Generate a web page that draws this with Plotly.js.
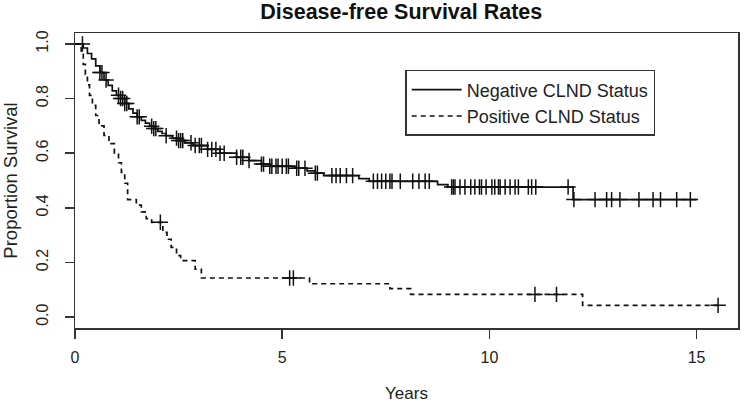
<!DOCTYPE html>
<html>
<head>
<meta charset="utf-8">
<script src="https://cdn.plot.ly/plotly-3.0.1.min.js"></script>
<style>html,body{margin:0;padding:0;background:#fff;}#chart{width:750px;height:405px;}</style>
</head>
<body>
<div id="chart"></div>
<script>
// Negative CLND status: event times and survival after each step
const negTimes = [0, 0.2, 0.3, 0.4, 0.5, 0.6, 0.7, 0.8, 0.9, 1.0, 1.1, 1.2, 1.3, 1.4, 1.5, 1.6, 1.7, 1.8, 1.9, 2.0, 2.1, 2.2, 2.35, 2.5, 2.65, 2.85, 3.2, 3.5, 3.9, 4.2, 4.5, 4.7, 5.3, 5.6, 5.8, 6.0, 6.85, 7.1, 8.75, 9.0, 12.02];
const negSurv  = [1.0, 0.985, 0.965, 0.945, 0.92, 0.895, 0.868, 0.848, 0.828, 0.812, 0.80, 0.782, 0.762, 0.747, 0.733, 0.72, 0.71, 0.699, 0.69, 0.68, 0.672, 0.664, 0.655, 0.646, 0.638, 0.628, 0.614, 0.6, 0.585, 0.573, 0.56, 0.552, 0.545, 0.535, 0.527, 0.518, 0.507, 0.497, 0.485, 0.476, 0.43];
const negEnd = 15.0;
const negCensor = [0.18, 0.6, 0.65, 0.75, 1.05, 1.1, 1.15, 1.2, 1.25, 1.5, 1.55, 1.85, 1.9, 1.95, 2.2, 2.45, 2.5, 2.55, 2.6, 2.8, 2.9, 3.0, 3.05, 3.2, 3.3, 3.4, 3.5, 3.6, 3.9, 4.0, 4.05, 4.2, 4.5, 4.55, 4.7, 4.75, 4.85, 4.9, 5.0, 5.1, 5.15, 5.35, 5.4, 5.55, 5.8, 5.85, 6.2, 6.3, 6.4, 6.55, 6.7, 7.2, 7.3, 7.4, 7.5, 7.6, 7.65, 7.85, 8.15, 8.3, 8.45, 8.55, 9.09, 9.13, 9.17, 9.29, 9.41, 9.55, 9.65, 9.76, 9.81, 9.92, 10.06, 10.13, 10.22, 10.26, 10.38, 10.5, 10.62, 10.7, 10.94, 11.02, 11.12, 11.9, 12.04, 12.55, 12.83, 12.95, 13.15, 13.61, 13.95, 14.13, 14.52, 14.85];

// Positive CLND status
const posTimes = [0, 0.15, 0.2, 0.25, 0.3, 0.35, 0.42, 0.5, 0.58, 0.7, 0.82, 0.95, 1.05, 1.12, 1.2, 1.27, 1.48, 1.6, 1.72, 1.85, 2.12, 2.22, 2.32, 2.45, 2.55, 2.9, 3.05, 5.66, 7.6, 8.1, 12.25];
const posSurv  = [1.0, 0.962, 0.925, 0.888, 0.85, 0.812, 0.775, 0.738, 0.70, 0.665, 0.635, 0.60, 0.565, 0.53, 0.49, 0.43, 0.41, 0.385, 0.36, 0.347, 0.31, 0.285, 0.255, 0.225, 0.207, 0.175, 0.143, 0.122, 0.104, 0.083, 0.043];
const posEnd = 15.52;
const posCensor = [2.06, 5.18, 5.27, 11.1, 11.62, 15.52];

const seriesNames = ["Negative CLND Status", "Positive CLND Status"];
const yTicks = [0, 0.2, 0.4, 0.6, 0.8, 1.0];
const yTickText = ["0.0", "0.2", "0.4", "0.6", "0.8", "1.0"];
const xTicks = [0, 5, 10, 15];

function survAt(times, surv, t) {
  let s = surv[0];
  for (let i = 0; i < times.length; i++) { if (times[i] <= t) s = surv[i]; }
  return s;
}

const FONT = "Liberation Sans, Arial, sans-serif";

function curve(times, surv, end, name, dash) {
  return {
    x: times.concat([end]), y: surv.concat([surv[surv.length - 1]]),
    type: "scatter", mode: "lines", name: name,
    line: {shape: "hv", color: "#111", width: 1.7, dash: dash}
  };
}
function censors(times, surv, ct) {
  return {
    x: ct, y: ct.map(t => survAt(times, surv, t)),
    type: "scatter", mode: "markers", showlegend: false, hoverinfo: "skip",
    marker: {symbol: "cross-thin-open", size: 11, color: "#111", line: {color: "#111", width: 1.5}}
  };
}

const data = [
  curve(negTimes, negSurv, negEnd, seriesNames[0], "solid"),
  curve(posTimes, posSurv, posEnd, seriesNames[1], "5px,4px"),
  censors(negTimes, negSurv, negCensor),
  censors(posTimes, posSurv, posCensor)
];

const layout = {
  width: 750, height: 405,
  margin: {l: 75, r: 12, t: 33, b: 77},
  paper_bgcolor: "#fff", plot_bgcolor: "#fff",
  font: {family: FONT, size: 16, color: "#222"},
  title: {text: "<b>Disease-free Survival Rates</b>", x: 0.535, xanchor: "center", y: 0.99, yanchor: "top",
          font: {family: FONT, size: 21.5, color: "#111"}},
  xaxis: {
    range: [0, 16], tickvals: xTicks, ticktext: xTicks.map(String),
    showgrid: false, zeroline: false, showline: true, mirror: true,
    linecolor: "#333", linewidth: 1.5, ticks: "outside", ticklen: 9, tickwidth: 1.5, tickcolor: "#333",
    ticklabelstandoff: 5, tickfont: {family: FONT, size: 16},
    title: {text: "Years", font: {family: FONT, size: 17}, standoff: 22},
    automargin: false
  },
  yaxis: {
    range: [-0.04, 1.04], tickvals: yTicks, ticktext: yTickText, tickangle: -90,
    showgrid: false, zeroline: false, showline: true, mirror: true,
    linecolor: "#333", linewidth: 1.5, ticks: "outside", ticklen: 9, tickwidth: 1.5, tickcolor: "#333",
    ticklabelstandoff: 10, tickfont: {family: FONT, size: 16},
    title: {text: "Proportion Survival", font: {family: FONT, size: 18.5}, standoff: 20},
    automargin: false
  },
  legend: {
    x: 0.498, y: 0.875, xanchor: "left", yanchor: "top",
    bordercolor: "#333", borderwidth: 1.5, bgcolor: "#fff",
    font: {family: FONT, size: 18, color: "#222"},
    itemwidth: 50, tracegroupgap: 4
  },
  showlegend: true
};

Plotly.newPlot("chart", data, layout, {staticPlot: true, displayModeBar: false});
</script>
</body>
</html>
